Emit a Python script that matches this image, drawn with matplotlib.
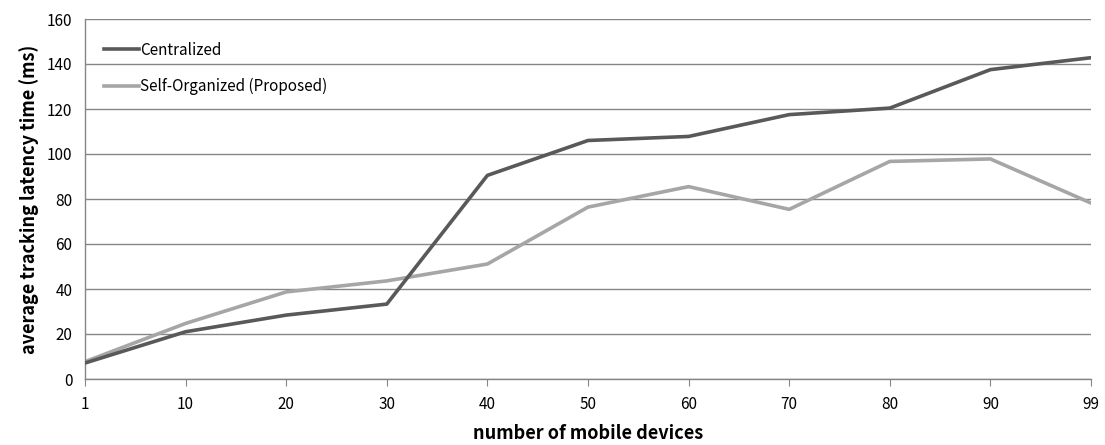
import matplotlib.pyplot as plt

plt.rcParams['font.family'] = ['Noto Sans CJK KR', 'DejaVu Sans']

# datos
dispositivos = ["1", "10", "20", "30", "40", "50", "60", "70", "80", "90", "99"]
centralizado = [7.1, 21.0, 28.4, 33.3, 90.5, 106.0, 107.8, 117.5, 120.4, 137.5, 142.8]
auto_organizado = [7.7, 24.7, 38.7, 43.6, 51.1, 76.4, 85.5, 75.4, 96.7, 97.8, 78.2]

fig = plt.figure(figsize=(11.05, 4.45), dpi=100)
ax = fig.add_axes([85 / 1105, 66 / 445, 1006 / 1105, 360 / 445])

x = list(range(len(dispositivos)))
ax.plot(x, centralizado, color="#595959", linewidth=2.6, label="Centralized",
        solid_joinstyle="round", zorder=3)
ax.plot(x, auto_organizado, color="#a6a6a6", linewidth=2.6, label="Self-Organized (Proposed)",
        solid_joinstyle="round", zorder=2)

ax.set_xlim(0, len(dispositivos) - 1)
ax.set_ylim(0, 160)
ax.set_yticks(range(0, 161, 20))
ax.set_xticks(x)
ax.set_xticklabels(dispositivos)

ax.grid(axis="y", color="#868686", linewidth=1.0)
ax.set_axisbelow(True)
for lado in ["top", "right"]:
    ax.spines[lado].set_visible(False)
for lado in ["left", "bottom"]:
    ax.spines[lado].set_color("#868686")
    ax.spines[lado].set_linewidth(1.0)

ax.tick_params(axis="x", direction="out", length=5, color="#868686", labelsize=11, pad=7)
ax.tick_params(axis="y", length=0, labelsize=11, pad=9)

ax.set_xlabel("number of mobile devices", fontsize=13, fontweight="bold", labelpad=8)
ax.set_ylabel("average tracking latency time (ms)", fontsize=13, fontweight="bold", labelpad=6)

ax.legend(loc="upper left", frameon=False, fontsize=11, handlelength=2.3,
          handletextpad=0.1, labelspacing=1.25, bbox_to_anchor=(0.005, 0.975))

fig.savefig("out.png", dpi=100)
